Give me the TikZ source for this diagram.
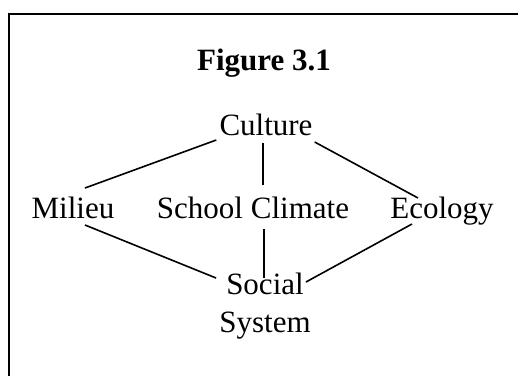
\documentclass[tikz,border=0pt]{standalone}
\usepackage{fontspec}
\setmainfont{Liberation Serif}
\begin{document}
\begin{tikzpicture}[x=1pt,y=-1pt,
  lbl/.style={inner sep=0pt,anchor=base,font=\fontsize{31}{38}\selectfont},
  conn/.style={line width=1.6pt,black},
  frame/.style={line width=1.8pt,black}]
\useasboundingbox (0,0) rectangle (518,376);
\draw[frame] (9,376) -- (9,14) -- (518,14);
\node[lbl,font=\fontsize{31}{38}\selectfont\bfseries] (fig) at (264,70) {Figure 3.1};
\node[lbl] (cul) at (266,135) {Culture};
\node[lbl] (mil) at (73,218) {Milieu};
\node[lbl] (sch) at (253,218) {School Climate};
\node[lbl] (eco) at (442,218) {Ecology};
\node[lbl] (soc) at (265,294) {Social};
\node[lbl] (sys) at (265,332) {System};
\draw[conn] ([shift={(-3,5)}]cul.base west) -- ([shift={(12,-30)}]mil.base);
\draw[conn] ([shift={(-3,8)}]cul.base) -- ([shift={(10,-33)}]sch.base);
\draw[conn] ([shift={(2,7)}]cul.base east) -- ([shift={(-24,-20)}]eco.base);
\draw[conn] ([shift={(12,7)}]mil.base) -- ([shift={(-10,-16)}]soc.base west);
\draw[conn] ([shift={(11,11)}]sch.base) -- ([shift={(-1,-16)}]soc.base);
\draw[conn] ([shift={(-30,6)}]eco.base) -- ([shift={(2,-12)}]soc.base east);
\end{tikzpicture}
\end{document}
